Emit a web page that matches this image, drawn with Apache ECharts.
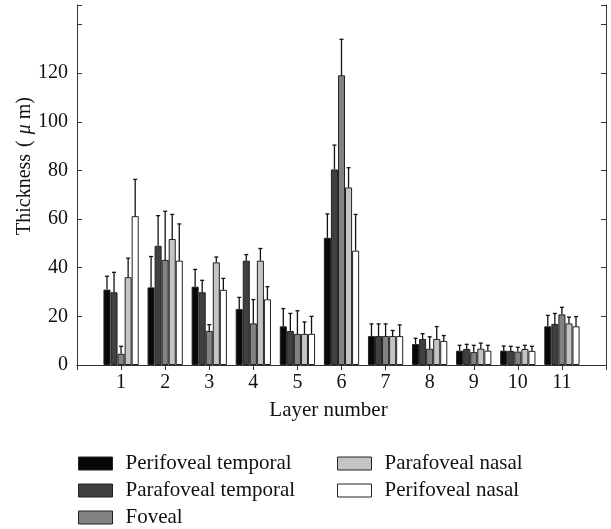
<!DOCTYPE html>
<html>
<head>
<meta charset="utf-8">
<script src="https://cdn.jsdelivr.net/npm/echarts@6/dist/echarts.min.js"></script>
<style>html,body{margin:0;padding:0;background:#fff}#c{width:611px;height:529px}</style>
</head>
<body>
<div id="c"></div>
<script>
// ---- data ----
const categories = ['1','2','3','4','5','6','7','8','9','10','11'];
const seriesNames = ['Perifoveal temporal','Parafoveal temporal','Foveal','Parafoveal nasal','Perifoveal nasal'];
const perifovealTemporal = [31.0, 31.9, 32.2, 23.0, 15.9, 52.3, 11.9, 8.6, 5.9, 5.9, 15.9];
const parafovealTemporal = [29.9, 49.0, 29.9, 42.9, 14.0, 80.4, 11.9, 10.7, 6.6, 5.8, 16.9];
const foveal             = [4.6, 43.2, 14.0, 17.1, 12.8, 119.1, 11.9, 6.7, 5.3, 5.5, 20.8];
const parafovealNasal    = [36.1, 51.8, 42.2, 42.9, 12.8, 73.0, 11.9, 10.7, 6.7, 6.6, 17.1];
const perifovealNasal    = [61.2, 42.9, 30.9, 27.0, 12.8, 47.0, 11.9, 9.9, 5.9, 5.8, 15.9];
const sdPerifovealTemporal = [5.5, 12.7, 7.1, 4.8, 7.3, 9.8, 5.0, 2.4, 2.2, 1.9, 4.5];
const sdParafovealTemporal = [8.2, 12.4, 4.9, 2.5, 7.2, 10.0, 5.0, 2.2, 1.9, 1.9, 4.3];
const sdFoveal             = [3.1, 20.0, 2.6, 9.8, 9.5, 14.8, 5.0, 4.9, 2.8, 1.8, 2.9];
const sdParafovealNasal    = [7.8, 10.1, 2.2, 5.0, 4.9, 8.1, 2.3, 5.1, 2.3, 1.5, 2.6];
const sdPerifovealNasal    = [15.1, 15.1, 4.7, 5.2, 7.2, 14.9, 4.6, 2.2, 2.2, 1.9, 4.0];
const yTicks = [0, 20, 40, 60, 80, 100, 120];

// ---- build ----
const values = [perifovealTemporal, parafovealTemporal, foveal, parafovealNasal, perifovealNasal];
const sds = [sdPerifovealTemporal, sdParafovealTemporal, sdFoveal, sdParafovealNasal, sdPerifovealNasal];
const colors = ['#080808', '#404040', '#828282', '#c4c4c4', '#ffffff'];
const axisData = [''].concat(categories, ['']);
const FONT = 'Liberation Serif';
const BAR_FRAC = 0.8;
const N = values.length;

const barSeries = values.map((v, i) => ({
  name: seriesNames[i],
  type: 'bar',
  data: [null].concat(v, [null]),
  barGap: '0%',
  barCategoryGap: '20%',
  itemStyle: { color: colors[i], borderColor: '#222', borderWidth: 1 },
  emphasis: { disabled: true },
  z: 2
}));

const errData = [];
values.forEach((v, i) => v.forEach((val, j) => errData.push([j + 1, val, sds[i][j], i])));

const errSeries = {
  name: 'error',
  type: 'custom',
  z: 5,
  silent: true,
  data: errData,
  renderItem: function (params, api) {
    const ci = api.value(0), val = api.value(1), sd = api.value(2), si = api.value(3);
    const band = api.size([1, 0])[0];
    const bw = band * BAR_FRAC / N;
    const base = api.coord([ci, val]);
    const top = api.coord([ci, val + sd]);
    const x = base[0] + (si - (N - 1) / 2) * bw;
    const cap = 2;
    const st = { stroke: '#111', lineWidth: 1.3 };
    return {
      type: 'group',
      children: [
        { type: 'line', shape: { x1: x, y1: base[1], x2: x, y2: top[1] }, style: st },
        { type: 'line', shape: { x1: x - cap, y1: top[1], x2: x + cap, y2: top[1] }, style: st }
      ]
    };
  }
};

const axisLine = { show: true, lineStyle: { color: '#333', width: 1 } };
const tickStyle = { show: true, inside: true, length: 5, lineStyle: { color: '#333', width: 1 } };
const legendCommon = {
  orient: 'vertical', top: 453, height: 80, padding: 0,
  itemWidth: 34, itemHeight: 13, itemGap: 6,
  icon: 'rect',
  itemStyle: { borderColor: '#222', borderWidth: 1 },
  textStyle: { fontFamily: FONT, fontSize: 21, color: '#111', lineHeight: 21, padding: [0, 0, 0, 8] },
  selectedMode: false
};

const option = {
  animation: false,
  backgroundColor: '#fff',
  grid: { left: 77, right: 5, top: 5, bottom: 164 },
  legend: [
    Object.assign({ data: seriesNames.slice(0, 3), left: 78 }, legendCommon),
    Object.assign({ data: seriesNames.slice(3), left: 337 }, legendCommon)
  ],
  xAxis: [
    {
      type: 'category', data: axisData, boundaryGap: false, position: 'bottom',
      axisLine: axisLine, axisTick: { show: false },
      axisLabel: { fontFamily: FONT, fontSize: 20, color: '#111', margin: 8, interval: 0 },
      name: 'Layer number', nameLocation: 'middle', nameGap: 35,
      nameTextStyle: { fontFamily: FONT, fontSize: 21, color: '#111', padding: [0, 26, 0, 0] },
      splitLine: { show: false }
    },
    {
      type: 'category', data: axisData, boundaryGap: false, position: 'top',
      axisLine: axisLine, axisTick: Object.assign({}, tickStyle, { interval: 0 }),
      axisLabel: { show: false }, splitLine: { show: false }
    }
  ],
  yAxis: [
    {
      type: 'value', min: 0, max: 148, interval: 20, position: 'left',
      axisLine: axisLine, axisTick: tickStyle,
      axisLabel: {
        fontFamily: FONT, fontSize: 20, color: '#111', margin: 9,
        formatter: v => (yTicks.indexOf(v) >= 0 ? String(v) : '')
      },
      splitLine: { show: false },
      name: 'Thickness {p|(}{i|μ}{m|m)}', nameLocation: 'middle', nameRotate: 90, nameGap: 42,
      nameMoveOverlap: false,
      nameTextStyle: {
        fontFamily: FONT, fontSize: 20, color: '#111', padding: [0, 0, 0, 38],
        rich: {
          p: { fontFamily: FONT, fontSize: 20, color: '#111', padding: [0, 4, 0, 2] },
          i: { fontFamily: FONT, fontSize: 20, fontStyle: 'italic', color: '#111', padding: [0, 5, 0, 2] },
          m: { fontFamily: FONT, fontSize: 20, color: '#111' }
        }
      }
    },
    {
      type: 'value', min: 0, max: 148, interval: 20, position: 'right',
      axisLine: axisLine, axisTick: tickStyle, axisLabel: { show: false }, splitLine: { show: false }
    }
  ],
  series: barSeries.concat([errSeries])
};

const chart = echarts.init(document.getElementById('c'), null, { renderer: 'canvas' });
chart.setOption(option);
</script>
</body>
</html>
